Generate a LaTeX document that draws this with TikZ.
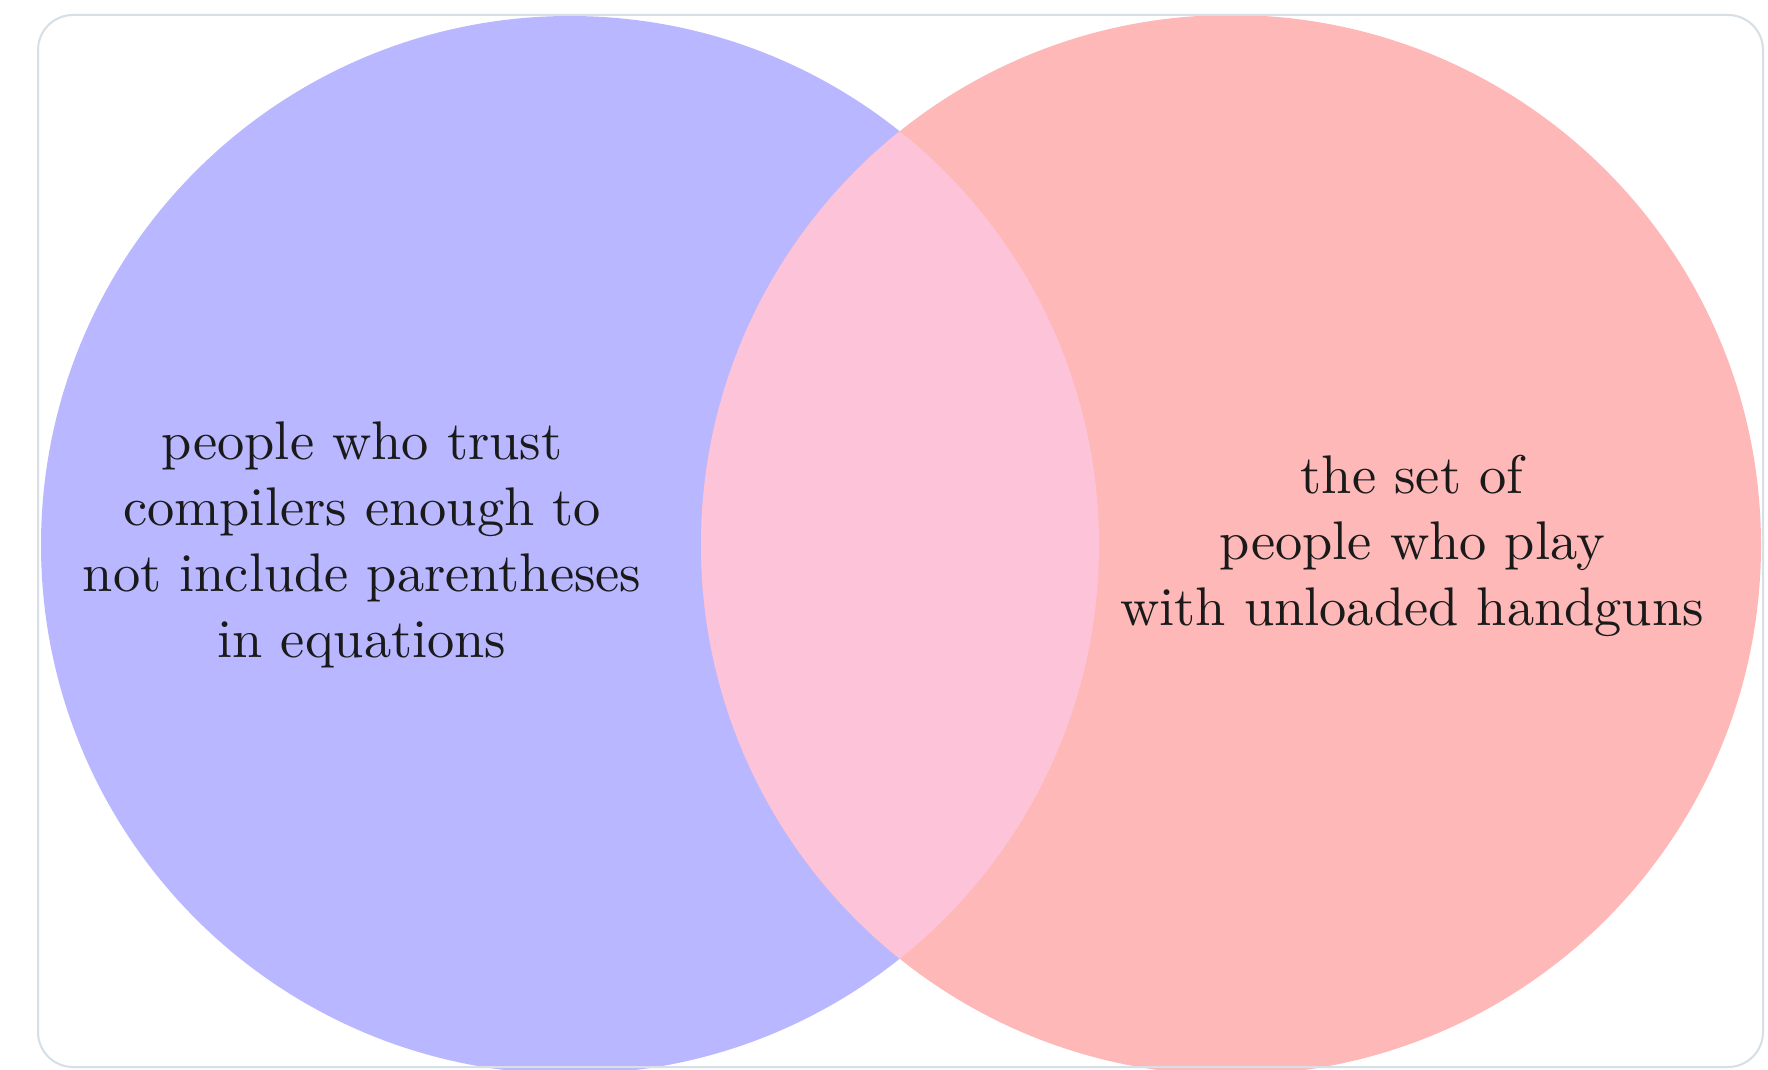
\documentclass[tikz,border=0pt]{standalone}
\usepackage{fontspec}
\newfontfamily\tenlm{lmroman10-regular}[Extension=.otf]
\definecolor{setblue}{HTML}{B9B7FF}
\definecolor{setred}{HTML}{FFB8B8}
\definecolor{setpink}{HTML}{FDC4D9}
\definecolor{framegray}{HTML}{D6DEE6}
\definecolor{txt}{HTML}{1A1A1A}
\begin{document}
\begin{tikzpicture}[x=0.5pt,y=-0.5pt,
  settext/.style={align=center,text=txt,inner sep=0pt,font=\tenlm\fontsize{27.2}{33}\selectfont}]
\useasboundingbox (0,0) rectangle (1768,1070);
\clip (0,0) rectangle (1768,1070);
\coordinate (cl) at (570,545);
\coordinate (cr) at (1231,545);
\fill[white] (0,0) rectangle (1768,1070);
\fill[setblue] (cl) circle[radius=264.5pt];
\fill[setred] (cr) circle[radius=265pt];
\begin{scope}
  \clip (cl) circle[radius=264.5pt];
  \fill[setpink] (cr) circle[radius=265pt];
\end{scope}
\draw[framegray,line width=1pt,rounded corners=17.5pt] (38,15) rectangle (1763,1067);
\node[settext] (lefttext) at (362,545) {people who trust\\compilers enough to\\not include parentheses\\in equations};
\node[settext] (righttext) at (1412,546) {the set of\\people who play\\with unloaded handguns};
\end{tikzpicture}
\end{document}
